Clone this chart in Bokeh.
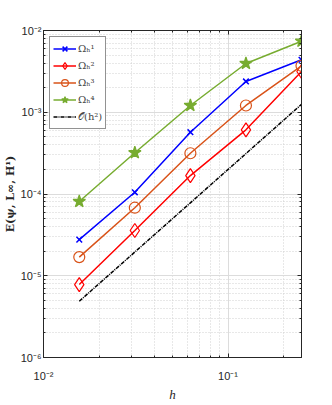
from bokeh.plotting import figure
from bokeh.models import LogAxis, FixedTicker, CustomJSTickFormatter, Legend, LegendItem, Range1d
from bokeh.embed import file_html
from bokeh.resources import INLINE

# data
h = [1/64, 1/32, 1/16, 1/8, 1/4]
omega1 = [2.77e-5, 1.05e-4, 5.7e-4, 2.38e-3, 4.38e-3]
omega2 = [7.8e-6, 3.58e-5, 1.68e-4, 6.1e-4, 3.15e-3]
omega3 = [1.69e-5, 6.8e-5, 3.15e-4, 1.21e-3, 3.7e-3]
omega4 = [8.1e-5, 3.2e-4, 1.21e-3, 3.95e-3, 7.4e-3]
ref_h2 = [4.88e-6, 1.95e-5, 7.8e-5, 3.12e-4, 1.25e-3]

labels = ["Ωₕ¹", "Ωₕ²", "Ωₕ³", "Ωₕ⁴", "𝒪(h²)"]

x_major = [1e-2, 1e-1]
x_minor = [2e-2, 3e-2, 4e-2, 5e-2, 6e-2, 7e-2, 8e-2, 9e-2, 2e-1]
y_major = [1e-6, 1e-5, 1e-4, 1e-3, 1e-2]
y_minor = [m * 10.0 ** k for k in range(-6, -2) for m in range(2, 10)]

p = figure(frame_width=258, frame_height=327, x_axis_type="log", y_axis_type="log",
           x_range=Range1d(0.01, 0.25), y_range=Range1d(1e-6, 1e-2),
           output_backend="svg", toolbar_location=None,
           min_border_left=33, min_border_right=23, min_border_top=30, min_border_bottom=38)

fmt = CustomJSTickFormatter(code="""
const e = Math.round(Math.log10(tick));
const sup = {'-':'\u207b','0':'\u2070','1':'\u00b9','2':'\u00b2','3':'\u00b3','4':'\u2074','5':'\u2075','6':'\u2076','7':'\u2077','8':'\u2078','9':'\u2079'};
return '10' + String(e).split('').map(c => sup[c]).join('');
""")

xt = FixedTicker(ticks=x_major, minor_ticks=x_minor)
yt = FixedTicker(ticks=y_major, minor_ticks=y_minor)

axcol = "#262626"
for ax, t in ((p.xaxis[0], xt), (p.yaxis[0], yt)):
    ax.ticker = t
    ax.formatter = fmt
    ax.major_tick_in = 4
    ax.major_tick_out = 0
    ax.minor_tick_in = 2
    ax.minor_tick_out = 0
    ax.axis_line_color = axcol
    ax.major_tick_line_color = axcol
    ax.minor_tick_line_color = axcol
    ax.major_label_text_font = "Liberation Sans"
    ax.major_label_text_font_size = "11px"
    ax.major_label_text_color = axcol

p.xaxis.major_label_standoff = 12
p.yaxis.major_label_standoff = 2
p.xaxis.axis_label = "h"
p.xaxis.axis_label_text_font = "Liberation Serif"
p.xaxis.axis_label_text_font_style = "italic"
p.xaxis.axis_label_text_font_size = "13px"
p.xaxis.axis_label_standoff = 2
p.yaxis.axis_label = "E(ψ, L∞, H¹)"
p.yaxis.axis_label_text_font = "DejaVu Serif"
p.yaxis.axis_label_text_font_style = "bold"
p.yaxis.axis_label_text_font_size = "11px"
p.yaxis.axis_label_standoff = 1
p.xaxis.axis_label_text_color = axcol
p.yaxis.axis_label_text_color = axcol

for loc, t in (("above", xt), ("right", yt)):
    ax = LogAxis(ticker=t, formatter=fmt, major_label_text_font_size="1px",
                 major_label_text_color=None, major_tick_in=4, major_tick_out=0,
                 minor_tick_in=2, minor_tick_out=0, axis_line_color=axcol,
                 major_tick_line_color=axcol, minor_tick_line_color=axcol,
                 major_label_standoff=0)
    p.add_layout(ax, loc)

p.outline_line_color = axcol
for g in (p.xgrid[0], p.ygrid[0]):
    g.grid_line_color = "#dcdcdc"
    g.grid_line_width = 1
    g.minor_grid_line_color = "#d0d0d0"
    g.minor_grid_line_dash = "1 2"

items = []
specs = [
    (omega1, "#0000ff", "x", dict(size=8, line_width=1.5)),
    (omega2, "#ff0000", "diamond", dict(size=14, line_width=1.2, fill_color=None)),
    (omega3, "#D95319", "circle", dict(size=11, line_width=1.2, fill_color=None)),
    (omega4, "#77AC30", "star", dict(size=13, line_width=1.2, fill_color="#77AC30")),
]
for (ys, col, mk, kw), lab in zip(specs, labels[:4]):
    r1 = p.line(h, ys, line_color=col, line_width=1.5)
    r2 = p.scatter(h, ys, marker=mk, line_color=col, **kw)
    items.append(LegendItem(label=lab, renderers=[r1, r2]))
r = p.line(h, ref_h2, line_color="black", line_width=1.5, line_dash="4 1 1 1")
items.append(LegendItem(label=labels[4], renderers=[r]))

leg = Legend(items=items, location="top_left", margin=6, padding=3, spacing=0,
             glyph_width=23, glyph_height=17, label_height=17, label_standoff=2,
             label_text_font="DejaVu Serif", label_text_font_size="10px",
             border_line_color=axcol, border_line_width=1, background_fill_alpha=1)
p.add_layout(leg)

open("out.html", "w").write(file_html(p, INLINE))
